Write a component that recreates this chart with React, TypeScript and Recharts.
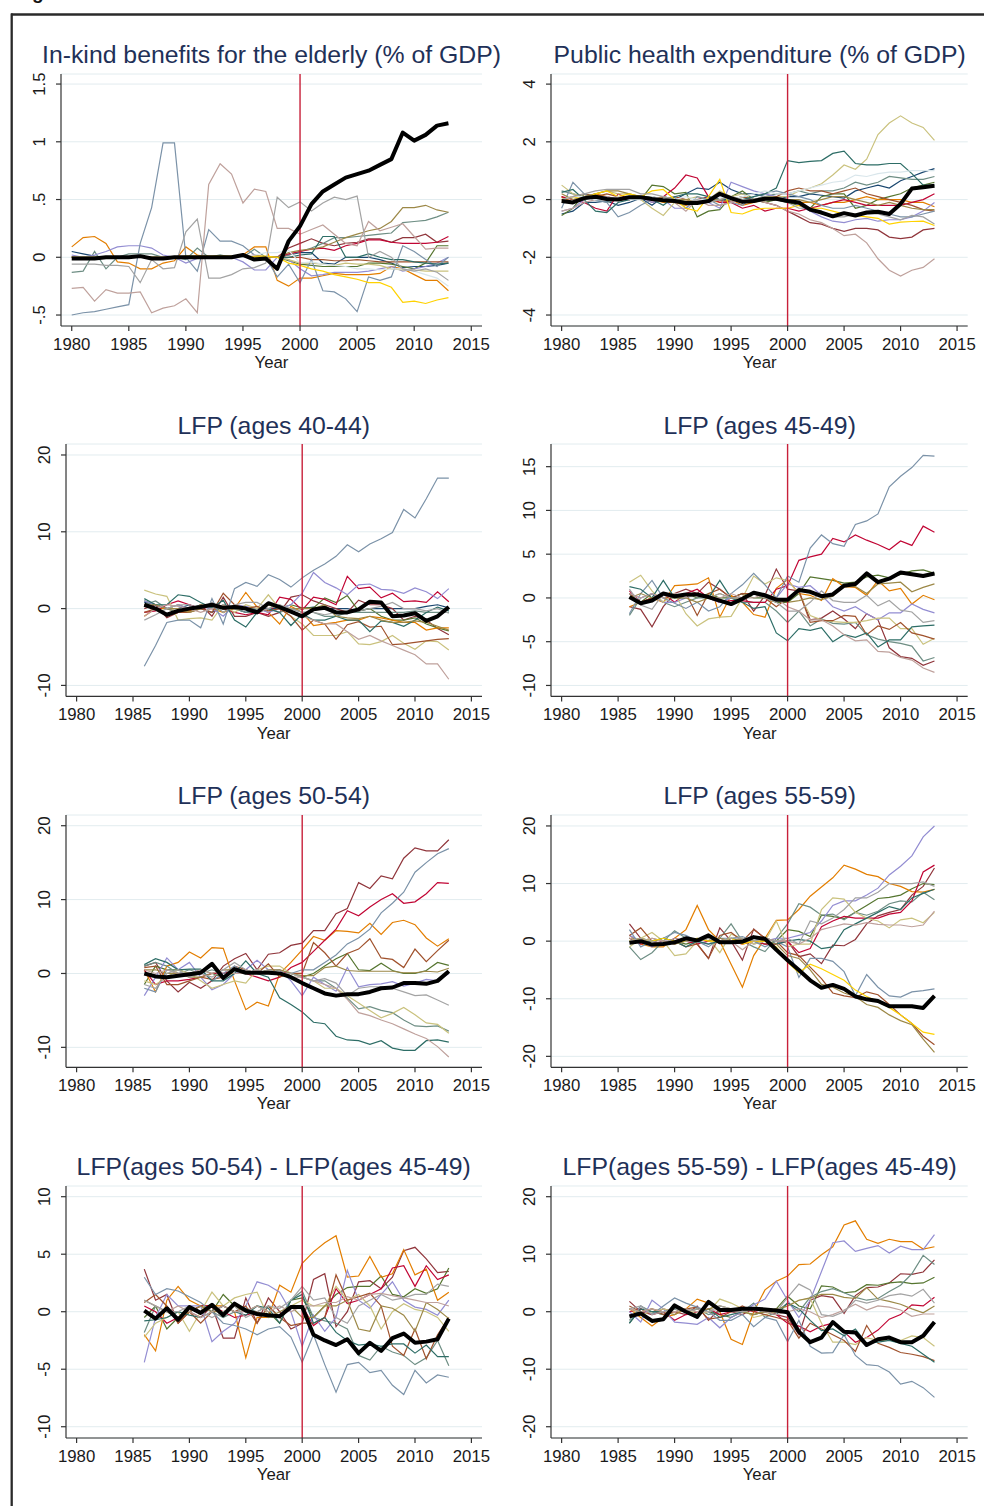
import React from 'react';
import { LineChart, Line, XAxis, YAxis, CartesianGrid, ReferenceLine } from 'recharts';

// ---------- axes ----------
const yearsLong = [1980, 1981, 1982, 1983, 1984, 1985, 1986, 1987, 1988, 1989, 1990, 1991, 1992, 1993, 1994, 1995, 1996, 1997, 1998, 1999, 2000, 2001, 2002, 2003, 2004, 2005, 2006, 2007, 2008, 2009, 2010, 2011, 2012, 2013];
const yearsShort = [1986, 1987, 1988, 1989, 1990, 1991, 1992, 1993, 1994, 1995, 1996, 1997, 1998, 1999, 2000, 2001, 2002, 2003, 2004, 2005, 2006, 2007, 2008, 2009, 2010, 2011, 2012, 2013];
const xTicks = [1980, 1985, 1990, 1995, 2000, 2005, 2010, 2015];
const treatmentYear = 2000;

const inkindTicks = [-0.5, 0, 0.5, 1, 1.5];
const healthTicks = [-4, -2, 0, 2, 4];
const lfp4044Ticks = [-10, 0, 10, 20];
const lfp4549Ticks = [-10, -5, 0, 5, 10, 15];
const lfp5054Ticks = [-10, 0, 10, 20];
const lfp5559Ticks = [-20, -10, 0, 10, 20];
const diff5054Ticks = [-10, -5, 0, 5, 10];
const diff5559Ticks = [-20, -10, 0, 10, 20];

// ---------- panel 1: in-kind benefits ----------
const inkindAvg = [-0.01, -0.01, -0.01, 0.0, 0.0, 0.0, 0.01, -0.01, -0.01, 0.0, 0.0, 0.0, 0.0, 0.0, 0.0, 0.02, -0.02, -0.01, -0.1, 0.14, 0.27, 0.46, 0.57, 0.63, 0.69, 0.72, 0.75, 0.8, 0.85, 1.08, 1.01, 1.06, 1.14, 1.16];
const inkindLines: Record<string, number[]> = {
  s1: [0.05, 0.03, 0.01, 0.0, 0.0, 0.0, 0.0, 0.0, 0.0, 0.0, 0.0, 0.0, 0.0, 0.0, 0.0, 0.0, 0.0, 0.0, 0.0, 0.02, 0.04, 0.04, -0.05, -0.06, 0.0, 0.0, 0.0, -0.02, -0.05, -0.09, -0.08, -0.08, -0.07, -0.05],
  s2: [0, 0, 0, 0, 0, 0, 0, 0, 0, 0, 0, 0, 0, 0, 0, 0, 0.01, 0.0, 0.0, 0.08, 0.12, 0.16, 0.12, 0.1, 0.12, 0.13, 0.16, 0.16, 0.13, 0.17, 0.17, 0.2, 0.13, 0.14],
  s3: [0, 0, 0, 0, 0, 0, 0, 0, 0, 0, 0, 0, 0, 0.01, 0, 0, 0, 0, 0, -0.03, -0.06, -0.07, -0.08, -0.08, -0.08, -0.08, -0.05, -0.05, -0.06, -0.08, -0.1, -0.05, 0.1, 0.1],
  s4: [0.09, 0.17, 0.18, 0.12, -0.04, -0.05, -0.1, -0.1, -0.05, -0.03, 0.09, 0.02, 0.0, 0.0, 0.0, 0.02, 0.09, 0.09, -0.2, -0.25, -0.18, -0.18, -0.16, -0.14, -0.15, -0.15, -0.15, -0.14, -0.08, -0.1, -0.15, -0.2, -0.2, -0.29],
  s5: [-0.13, -0.12, 0.05, -0.1, 0.0, 0.03, 0.03, 0.03, 0.0, 0.0, -0.02, 0.08, 0.0, 0.02, 0.0, 0.0, 0.07, 0.0, 0.0, 0.02, 0.05, 0.08, 0.12, 0.17, 0.17, 0.18, 0.19, 0.2, 0.21, 0.3, 0.31, 0.32, 0.35, 0.39],
  s6: [0, 0, 0, 0, 0, 0, 0, 0, 0, 0, 0, 0, 0, 0, 0, 0, 0.02, 0.0, 0.0, 0.03, 0.05, 0.07, 0.08, 0.06, 0.1, 0.12, 0.15, 0.15, 0.13, 0.12, 0.12, 0.12, 0.13, 0.18],
  s7: [0.02, 0.0, 0.02, 0.05, 0.09, 0.1, 0.1, 0.08, 0.02, 0.0, -0.05, -0.01, 0.0, 0.0, 0.0, -0.04, -0.11, -0.11, 0.0, -0.02, -0.1, -0.16, -0.15, -0.13, -0.13, -0.13, -0.12, -0.1, -0.08, -0.12, -0.1, -0.08, -0.05, 0.0],
  s8: [0, 0, 0, 0, 0, 0, 0, 0, 0, 0, 0, 0, 0, 0, 0, 0, 0, 0, 0, -0.02, -0.05, -0.05, -0.06, -0.07, -0.05, -0.06, -0.06, -0.07, -0.1, -0.11, -0.11, -0.12, -0.12, -0.12],
  s9: [0, 0, 0, 0, 0, 0, 0, 0, 0, 0, 0, 0, 0, 0, 0, 0, 0, 0, 0, 0, 0.0, -0.02, -0.02, -0.03, -0.03, -0.02, -0.03, -0.04, -0.04, -0.04, -0.04, -0.04, -0.04, -0.04],
  s10: [-0.5, -0.48, -0.47, -0.45, -0.43, -0.41, 0.12, 0.43, 0.99, 0.99, 0.0, -0.12, 0.24, 0.14, 0.14, 0.1, 0.02, 0.0, -0.17, -0.06, -0.22, -0.02, -0.29, -0.3, -0.36, -0.47, -0.17, -0.2, -0.17, 0.1, 0.05, -0.02, -0.08, 0.0],
  s11: [0, 0, 0, 0, 0, 0, 0, 0, 0, 0, 0, 0, 0, 0, 0, 0, 0, 0, 0, 0, 0.02, 0.03, 0.18, 0.18, 0.0, 0.0, 0.03, 0.0, -0.02, -0.02, -0.04, -0.05, -0.06, -0.05],
  s12: [0, 0, 0, 0, 0, 0, 0, 0, 0, 0, 0, 0, 0, 0, 0, 0, 0, 0, 0, 0.04, 0.06, 0.07, 0.09, 0.13, 0.17, 0.2, 0.23, 0.25, 0.31, 0.43, 0.43, 0.45, 0.41, 0.39],
  s13: [-0.27, -0.26, -0.38, -0.28, -0.31, -0.31, -0.3, -0.48, -0.44, -0.42, -0.36, -0.48, 0.63, 0.81, 0.72, 0.47, 0.59, 0.57, 0.25, 0.25, 0.2, 0.24, 0.28, 0.2, 0.12, 0.1, 0.31, 0.23, 0.26, 0.29, 0.18, 0.07, 0.08, 0.08],
  s14: [0, 0, 0, 0, 0, 0, 0, 0, 0, 0, 0.01, 0.01, 0.01, 0.01, 0.01, 0.01, 0.01, 0.01, 0.0, -0.05, -0.07, -0.1, -0.12, -0.15, -0.17, -0.19, -0.22, -0.22, -0.26, -0.39, -0.38, -0.4, -0.37, -0.35],
  s15: [0, 0, 0, 0, 0, 0, 0, 0, 0, 0, 0, 0, 0, 0, 0, 0, 0.02, 0.04, 0.04, 0.06, -0.05, -0.04, -0.06, -0.07, -0.08, -0.1, -0.1, -0.11, -0.1, -0.1, -0.12, -0.15, -0.18, -0.25],
  s16: [-0.06, -0.06, -0.06, -0.07, -0.07, -0.08, -0.22, -0.02, -0.1, -0.09, 0.22, 0.33, -0.18, -0.18, -0.15, -0.1, -0.09, -0.05, 0.52, 0.43, 0.48, 0.4, 0.47, 0.52, 0.5, 0.53, 0.0, 0.05, 0.0, -0.1, -0.12, -0.1, -0.13, -0.2],
};

// ---------- panel 2: public health expenditure ----------
const healthAvg = [-0.05, -0.1, 0.05, 0.1, 0.02, 0.0, 0.08, 0.08, 0.02, -0.02, -0.05, -0.12, -0.12, -0.05, 0.2, 0.05, -0.08, -0.05, 0.03, 0.03, -0.05, -0.1, -0.35, -0.45, -0.58, -0.47, -0.55, -0.45, -0.42, -0.5, -0.15, 0.38, 0.43, 0.48];
const healthLines: Record<string, number[]> = {
  s1: [-0.5, -0.4, -0.1, -0.1, -0.05, -0.2, -0.1, 0.05, -0.2, 0.1, 0.0, 0.2, 0.4, 0.35, 0.6, 0.35, 0.2, 0.2, 0.1, 0.0, 0.1, 0.1, 0.2, 0.15, 0.1, 0.05, 0.3, 0.4, 0.5, 0.4, 0.65, 0.8, 0.95, 1.07],
  s2: [0.1, -0.1, 0.1, 0.0, 0.0, 0.1, 0.0, 0.1, -0.1, 0.0, 0.0, -0.2, 0.0, 0.1, 0.0, -0.1, 0.0, 0.0, -0.1, -0.2, -0.4, -0.6, -0.8, -0.85, -1.0, -1.1, -1.0, -1.0, -1.05, -1.3, -1.35, -1.3, -1.05, -1.0],
  s3: [-0.55, -0.3, 0.2, 0.1, 0.0, 0.0, 0.1, 0.0, 0.5, 0.45, 0.2, 0.25, -0.6, -0.4, -0.35, 0.1, 0.3, 0.0, -0.1, 0.0, -0.1, -0.2, -0.3, 0.1, 0.2, 0.2, -0.3, -0.2, 0.0, 0.1, 0.2, 0.4, 0.5, 0.6],
  s4: [0.1, -0.1, 0.1, 0.2, 0.1, 0.0, 0.0, 0.1, 0.0, -0.1, -0.1, -0.2, -0.1, 0.0, -0.1, 0.0, -0.2, -0.1, 0.0, 0.1, 0.0, -0.1, -0.1, -0.2, -0.1, -0.1, 0.0, 0.1, 0.0, 0.0, 0.0, -0.1, -0.1, -0.25],
  s5: [0.3, 0.2, 0.1, 0.0, -0.1, 0.0, 0.1, 0.1, 0.1, 0.0, 0.0, -0.1, 0.0, -0.1, 0.0, 0.0, 0.1, 0.0, 0.1, 0.2, 0.2, 0.3, 0.2, 0.3, 0.3, 0.4, 0.6, 0.5, 0.6, 0.8, 0.75, 0.7, 0.7, 0.8],
  s6: [0.1, 0.0, -0.1, -0.3, -0.4, 0.2, 0.0, 0.1, 0.0, 0.1, 0.4, 0.85, 0.75, 0.1, -0.1, -0.1, -0.3, -0.2, -0.4, -0.3, -0.3, -0.4, -0.3, -0.2, -0.1, 0.0, -0.1, -0.2, -0.2, -0.2, -0.2, -0.1, 0.0, 0.2],
  s7: [-0.4, -0.3, 0.0, 0.1, 0.1, 0.0, 0.0, 0.1, -0.1, 0.0, -0.3, -0.3, 0.0, -0.1, -0.3, 0.6, 0.45, 0.3, 0.2, 0.1, 0.0, -0.2, -0.4, -0.6, -0.75, -0.8, -0.7, -0.65, -0.75, -0.7, -0.7, -0.6, -0.4, -0.1],
  s8: [0.5, 0.2, 0.1, 0.2, 0.3, 0.2, 0.2, 0.0, -0.3, -0.55, -0.1, 0.0, 0.1, 0.0, 0.3, 0.1, 0.2, 0.0, 0.1, 0.1, 0.1, 0.3, 0.4, 0.55, 0.85, 1.2, 1.05, 1.4, 2.25, 2.65, 2.9, 2.65, 2.5, 2.05],
  s9: [0.0, 0.1, 0.2, 0.1, 0.2, 0.1, 0.0, 0.1, 0.0, 0.0, 0.1, 0.0, -0.1, 0.0, 0.0, 0.0, 0.1, 0.0, 0.0, 0.1, 0.3, 0.4, 0.3, 0.3, 0.2, 0.3, 0.4, 0.2, 0.1, 0.0, -0.1, -0.2, -0.35, -0.4],
  s10: [-0.3, 0.6, 0.2, 0.0, -0.1, -0.6, -0.45, -0.2, 0.0, 0.0, 0.1, -0.3, 0.1, 0.0, -0.2, -0.1, -0.2, 0.1, 0.2, 0.3, 0.2, 0.1, 0.0, -0.2, -0.3, -0.3, -0.2, -0.3, -0.4, -0.5, -0.6, -0.6, -0.5, -0.4],
  s11: [0.25, 0.35, 0.0, -0.4, -0.45, -0.1, 0.0, 0.1, 0.0, -0.2, 0.1, 0.2, 0.2, 0.1, 0.0, 0.0, 0.0, 0.1, 0.2, 0.4, 1.35, 1.28, 1.32, 1.35, 1.6, 1.68, 1.25, 1.2, 1.2, 1.25, 1.25, 0.9, 0.5, 0.5],
  s12: [0.2, 0.0, 0.1, 0.2, 0.3, 0.3, 0.2, 0.1, 0.0, 0.1, 0.0, 0.0, -0.1, 0.0, 0.0, 0.1, 0.0, 0.0, 0.0, 0.0, 0.0, 0.0, -0.1, 0.0, 0.1, 0.1, 0.0, -0.1, -0.2, -0.1, -0.2, -0.3, -0.35, -0.35],
  s13: [-0.4, -0.3, -0.1, 0.0, 0.1, 0.0, 0.1, 0.0, 0.1, 0.0, -0.1, -0.4, 0.0, -0.2, -0.2, -0.1, 0.0, 0.0, -0.1, -0.2, -0.4, -0.5, -0.7, -0.8, -1.0, -1.25, -1.2, -1.5, -2.05, -2.45, -2.65, -2.45, -2.35, -2.05],
  s14: [0.0, 0.1, 0.0, 0.2, 0.3, 0.1, 0.2, 0.1, 0.3, 0.35, 0.0, -0.3, -0.4, 0.1, 0.7, -0.45, -0.5, -0.35, -0.3, -0.3, -0.3, -0.2, -0.3, -0.3, -0.4, -0.5, -0.55, -0.6, -0.65, -0.85, -0.78, -0.76, -0.75, -0.9],
  s15: [0.0, 0.1, 0.1, 0.0, 0.0, 0.1, 0.0, 0.0, 0.1, 0.0, 0.0, 0.1, 0.0, 0.0, 0.1, 0.0, 0.1, 0.2, 0.3, 0.2, 0.2, 0.3, 0.4, 0.5, 0.6, 0.65, 0.85, 0.8, 0.9, 0.95, 0.95, 1.0, 1.0, 1.0],
  s16: [0.0, 0.1, 0.2, 0.3, 0.35, 0.35, 0.35, 0.2, 0.2, 0.1, 0.0, -0.1, 0.0, -0.1, 0.0, 0.1, 0.0, 0.0, 0.1, 0.0, -0.1, -0.3, -0.3, -0.5, -0.6, -0.6, -0.5, -0.5, -0.5, -0.6, -0.7, -0.55, -0.6, -0.85],
};

// ---------- panel 3: LFP 40-44 ----------
const lfp4044Avg = [0.5, 0.0, -0.8, -0.3, 0.0, 0.2, 0.5, 0.1, 0.2, 0.0, -0.5, 0.7, 0.2, -0.4, -1.0, -0.1, 0.1, -0.5, -0.5, -0.1, 0.9, 0.8, -1.0, -0.9, -0.6, -1.6, -1.0, 0.2];
const lfp4044Lines: Record<string, number[]> = {
  s1: [0.8, 0.5, 0.0, 0.0, 0.5, 0.0, -0.5, 0.5, 0.0, -0.5, 0.0, 0.0, 0.0, 0.0, 0.0, 0.2, 0.0, 0.0, 0.0, -0.3, 0.0, 0.0, 0.0, 0.0, 0.0, 0.3, 0.5, 0.1],
  s2: [0.0, 0.5, -1.2, -0.5, -0.3, 0.5, -1.0, 1.5, -1.0, -1.0, -0.5, -1.0, -0.5, 1.5, 1.8, 1.0, 0.5, 0.0, -0.5, 1.1, 0.5, 0.5, 0.0, -1.5, -1.0, -1.5, -2.6, -3.4],
  s3: [1.0, 0.5, 0.0, 0.5, 0.0, 0.0, 0.5, -0.5, 0.5, 0.0, 0.0, 0.5, 0.0, 0.5, 0.1, 0.1, 1.4, 0.8, 1.7, -0.3, 0.0, -1.0, -1.5, -1.5, -1.2, -2.0, -2.5, -2.9],
  s4: [-1.0, 0.0, 0.0, -0.5, -0.3, 0.5, 0.0, -0.5, 0.0, 2.1, 0.2, -0.5, -2.0, 0.3, -0.5, -2.2, -2.0, -1.8, -1.5, -1.5, -1.0, -1.2, -1.5, -1.8, -1.8, -2.8, -2.5, -2.5],
  s5: [0.5, 1.0, 0.0, -0.5, 0.0, 0.5, 0.0, 0.0, 0.0, -0.5, -0.5, 0.0, -0.5, 0.0, -0.5, -0.5, -1.0, -1.0, -0.5, -0.5, -0.5, -0.5, -0.5, -0.5, -0.3, -0.5, -0.5, -0.5],
  s6: [-0.5, -0.3, 0.5, 1.0, 0.5, 0.0, 0.3, 0.0, -0.5, -0.8, -0.5, -0.8, 1.5, 1.2, -0.2, 1.5, 1.2, 0.5, 4.2, 2.6, 2.8, 1.4, 2.0, 0.9, 1.0, 0.8, 2.2, 0.9],
  s7: [1.0, 0.5, 0.0, 0.5, 0.0, 0.3, 0.0, -1.0, 0.5, 0.3, 0.0, -0.5, 0.0, 0.5, 2.0, 4.7, 3.4, 2.7, 1.8, 3.1, 3.2, 2.5, 2.4, 2.0, 2.7, 2.2, 1.3, 2.6],
  s8: [2.4, 1.9, 1.6, -1.5, -1.3, -1.2, -1.5, 0.5, -0.5, 0.5, 0.0, 1.8, 0.0, -1.0, -2.0, -3.5, -3.5, -3.5, -3.0, -4.6, -4.7, -4.3, -3.5, -4.5, -5.3, -4.2, -4.3, -5.4],
  s9: [-0.5, 0.0, -1.0, -0.5, -0.5, 0.0, -0.5, 2.0, 0.5, 0.0, 0.3, -0.3, 0.0, -1.0, -2.8, -1.5, -2.0, -4.0, -2.1, -1.7, -2.4, -2.3, -4.7, -4.6, -4.4, -4.2, -4.0, -3.9],
  s10: [-7.5, -4.8, -1.8, -1.5, -1.5, -2.5, 1.3, -2.0, 2.6, 3.4, 2.9, 4.4, 3.8, 2.8, 4.0, 5.0, 5.8, 6.8, 8.3, 7.4, 8.4, 9.1, 9.9, 12.9, 11.8, 14.3, 17.0, 17.0],
  s11: [1.3, 0.5, 0.5, 1.8, 1.6, 0.8, 0.1, 1.1, -1.5, -2.4, -0.5, 0.0, -0.5, -2.2, -0.7, -1.5, -1.5, -1.0, -1.5, -1.5, -3.0, -1.6, -1.8, -2.3, -1.5, -0.5, 0.2, -0.3],
  s12: [0.5, 0.5, 0.0, 0.0, -0.5, 0.0, 0.5, 0.0, 0.0, 0.0, -0.5, 0.5, 0.0, 0.0, 0.0, 0.0, 0.5, -1.0, -1.2, -1.3, -1.0, -1.5, -1.8, -1.8, -1.6, -1.8, -2.3, -2.8],
  s13: [-1.0, 0.0, 0.5, 0.3, 0.0, -0.5, 0.0, 0.5, 0.0, 0.0, -0.5, 0.0, 0.5, -0.5, -1.0, -1.5, -2.0, -2.0, -3.0, -4.0, -3.5, -4.2, -4.8, -5.4, -6.0, -7.2, -7.2, -9.2],
  s16: [-1.5, -0.8, 0.0, 0.5, 0.5, 0.0, 0.8, -0.5, 0.5, 0.8, 0.8, 0.0, 0.5, 0.0, -0.5, -0.5, -0.8, -0.5, -0.6, -0.3, 0.0, 0.3, 0.8, 0.0, 0.0, -0.3, 0.0, -0.6],
};

// ---------- panel 4: LFP 45-49 ----------
const lfp4549Avg = [0.1, -0.6, -0.3, 0.5, 0.2, 0.4, 0.4, 0.1, -0.3, -0.7, -0.1, 0.6, 0.3, -0.2, -0.2, 0.9, 0.7, 0.2, 0.4, 1.4, 1.6, 2.8, 1.8, 2.2, 2.9, 2.7, 2.5, 2.8];
const lfp4549Lines: Record<string, number[]> = {
  s2: [-1.0, -1.3, -3.3, -1.0, 0.5, 1.0, 0.5, 1.8, 1.0, 0.0, 0.5, -1.5, 0.3, 3.3, 1.0, 0.8, -2.5, -2.3, -1.5, -2.4, -3.5, -1.8, -2.5, -5.7, -6.7, -6.9, -7.7, -7.2],
  s3: [0.5, -0.5, 0.5, 0.0, 0.0, 0.5, 0.0, 0.5, 0.0, 0.0, 0.5, 0.0, 0.0, -0.5, -0.5, 0.5, 2.4, 2.2, 2.0, 1.7, 1.8, 2.4, 2.6, 2.3, 2.7, 3.1, 3.2, 2.8],
  s4: [-1.0, -0.5, 0.0, -0.5, 1.4, 1.5, 1.6, 2.3, -2.2, 0.3, -0.5, -1.9, -2.2, 1.1, 2.1, 0.5, 0.3, -0.3, 2.2, 1.3, 1.2, 0.3, 2.0, 0.8, 1.1, -0.7, 0.3, -0.2],
  s5: [-2.0, 0.0, 0.5, -0.5, -1.0, -0.5, 0.0, 0.0, -0.5, 0.0, -0.5, -0.5, -0.5, -1.5, -2.8, -1.5, -3.2, -2.4, -2.9, -3.0, -2.8, -4.2, -4.7, -5.0, -5.2, -5.5, -7.2, -6.8],
  s6: [0.8, -0.5, 0.0, 0.5, -0.5, 0.5, 1.0, 0.0, -0.5, -0.3, -0.3, -0.5, -0.5, 1.0, 1.4, 4.3, 4.7, 5.0, 6.8, 6.4, 7.2, 6.6, 6.1, 5.5, 6.5, 6.0, 8.2, 7.5],
  s7: [0.5, 0.0, 0.5, -0.5, -0.5, 0.0, 0.5, 0.0, -0.5, 0.0, 0.0, 0.5, 0.0, 0.0, 1.6, 1.2, 1.4, 0.3, -1.0, -1.5, -1.0, -1.8, -2.5, -1.7, -1.7, -0.7, -1.3, -1.7],
  s8: [1.8, 2.6, 0.8, -0.5, 0.5, -1.8, -3.2, -2.4, -2.2, -2.1, 0.0, 2.5, 1.6, 2.3, 2.0, 0.5, -2.0, -2.5, -2.7, -2.8, -2.8, -2.6, -2.3, -2.3, -3.5, -3.5, -5.3, -4.6],
  s9: [0.5, -0.5, 0.0, 0.5, 0.0, 0.5, -2.0, 0.5, 1.0, 0.0, 0.5, 0.5, 0.0, -1.0, 0.0, 0.8, -2.8, -2.6, -2.6, -2.0, -2.1, -4.2, -3.2, -3.6, -2.8, -4.0, -4.3, -4.7],
  s10: [-1.8, 0.5, 2.0, 0.0, -0.6, -1.2, -0.5, -1.5, -1.0, 0.5, 1.5, 2.8, 1.5, 0.0, 2.5, 1.8, 5.7, 7.2, 6.2, 5.9, 8.4, 8.8, 9.6, 12.7, 13.9, 14.9, 16.3, 16.2],
  s11: [1.3, 1.0, 0.0, 2.0, 0.0, 0.0, 0.5, 0.0, 2.0, 0.0, -0.5, -1.2, -1.0, -4.0, -4.9, -3.5, -3.7, -3.4, -5.0, -4.2, -4.5, -4.0, -5.6, -4.8, -4.8, -3.3, -3.2, -3.1],
  s12: [0.0, 0.5, 0.0, 0.5, 0.0, 0.0, -0.5, 0.0, 0.5, 0.0, 0.0, 0.5, 0.0, 0.0, -0.5, -0.3, 0.0, -0.2, 0.2, 1.5, 1.3, 0.5, 1.6, 1.7, 1.8, 0.7, 1.2, 1.6],
  s13: [0.5, 0.0, 0.5, 0.0, 0.5, 0.0, 0.5, 0.0, 0.0, 0.5, 0.0, 0.0, 0.5, 0.0, -1.0, -1.5, -2.5, -2.5, -3.2, -4.2, -4.9, -4.8, -6.1, -6.2, -6.8, -7.1, -8.0, -8.5],
  s16: [1.0, -0.8, -1.3, 0.5, 0.0, 0.5, 0.5, 0.0, 0.5, 0.0, 0.0, 0.5, 0.0, -0.5, -1.5, -1.5, -0.5, 0.8, -0.3, -0.5, -0.5, 0.3, -0.9, -0.3, -1.4, -1.6, -2.8, -2.6],
};

// ---------- panel 5: LFP 50-54 ----------
const lfp5054Avg = [0.0, -0.4, -0.5, -0.3, -0.1, 0.1, 1.3, -0.6, 0.6, 0.1, 0.1, 0.1, 0.0, -0.5, -1.3, -2.0, -2.7, -3.0, -2.8, -2.8, -2.5, -2.0, -1.9, -1.3, -1.3, -1.4, -1.0, 0.3];
const lfp5054Lines: Record<string, number[]> = {
  s2: [1.0, 1.5, -1.0, -2.5, -1.2, -2.0, -1.0, 1.0, 2.0, 2.7, 0.5, 2.6, 2.8, 3.8, 4.1, 5.8, 5.8, 8.1, 8.8, 12.3, 11.5, 13.2, 12.8, 15.6, 17.0, 16.6, 16.6, 18.1],
  s3: [-1.5, 1.0, 0.5, 0.5, 0.0, 0.5, 0.0, -0.5, 0.5, 0.0, 0.0, 0.5, 0.0, 0.0, -0.5, 0.0, 1.0, 2.0, 2.7, 0.5, 0.4, 1.4, 0.4, 0.0, 0.0, 0.4, 1.5, 1.1],
  s4: [0.5, -2.5, 1.0, 1.5, 2.9, 2.1, 3.5, 3.4, -1.0, -4.9, -3.9, -4.4, 0.0, 1.5, 3.2, 5.0, 4.5, 5.8, 5.7, 5.5, 6.8, 5.3, 6.9, 7.2, 6.6, 4.8, 3.7, 4.7],
  s5: [1.0, 1.5, 1.0, 0.0, 0.5, 0.0, 0.5, 0.0, 0.5, 0.0, 0.5, 0.0, 0.0, 0.0, -0.5, -1.0, -1.0, -2.0, -3.3, -4.8, -4.5, -5.0, -5.3, -6.3, -7.1, -7.2, -7.1, -7.8],
  s6: [0.5, -1.5, -1.0, -1.0, -0.8, -0.5, 0.0, 0.0, 0.5, 0.0, -0.5, -1.0, -0.5, 0.8, 1.5, 3.0, 4.5, 6.0, 8.5, 7.8, 9.0, 10.0, 10.8, 9.5, 9.7, 10.8, 12.3, 12.2],
  s7: [-3.0, -0.5, 2.1, 0.5, 1.5, -0.5, -2.2, -1.5, 0.0, 0.5, 1.8, 0.5, 0.5, -1.0, -3.0, -0.5, -1.5, -2.4, 0.8, -1.8, -1.5, -1.4, -1.1, -1.7, -1.3, -0.8, -1.0, 0.0],
  s8: [-1.0, -1.5, -0.5, 0.5, 0.0, -1.0, -2.0, -1.5, -1.0, -1.3, 0.5, 1.0, 1.0, 0.0, -0.5, -1.0, -2.0, -2.0, -3.0, -4.0, -5.0, -6.0, -5.4, -4.6, -5.6, -6.7, -6.9, -8.1],
  s9: [0.8, 1.0, -1.5, -1.5, -1.0, -0.5, -0.8, -0.5, 1.0, 0.5, 0.0, 1.3, -0.5, 0.0, 0.0, 4.2, 2.8, 1.0, 2.7, 3.3, 4.7, 2.1, 1.9, 0.8, 3.3, 1.6, 3.1, 4.5],
  s10: [-2.0, -2.5, 0.5, 0.0, -0.5, 0.5, -1.0, 0.0, 1.0, 0.0, 0.5, 0.0, 0.5, 0.0, 0.5, 0.5, 1.5, 2.5, 4.0, 4.8, 6.0, 8.2, 9.5, 11.0, 13.7, 15.0, 16.2, 16.9],
  s11: [1.2, 2.0, 1.5, 0.5, 0.6, 0.6, -1.0, -1.0, 0.0, 1.7, 0.0, -0.5, -3.3, -4.2, -5.2, -6.6, -6.8, -8.5, -9.0, -9.1, -9.6, -9.1, -10.1, -10.4, -10.4, -9.1, -9.0, -9.3],
  s12: [0.5, 0.5, 0.0, 0.0, -0.5, -0.5, 0.0, 0.5, 0.5, 0.0, 0.0, 0.5, 0.5, 0.0, -0.3, -0.3, 0.8, 1.0, 0.4, 0.3, 0.3, 0.3, 0.3, 0.1, 0.1, 0.3, 0.2, 0.7],
  s13: [0.5, 0.0, 0.5, 0.0, 0.0, 0.5, 0.0, 0.5, 0.0, 0.0, 0.5, 0.0, 0.0, -0.5, -0.5, -1.0, -1.5, -2.0, -3.5, -5.3, -5.7, -6.3, -6.8, -7.5, -8.2, -8.8, -9.9, -11.3],
  s16: [-1.5, -2.0, 0.0, 0.5, -0.5, 0.0, -0.5, 0.5, 1.5, 0.5, 0.0, 0.5, 0.0, 0.0, -0.5, -1.0, -0.7, -1.3, -3.0, -2.0, -1.8, -1.8, -2.0, -2.5, -3.0, -2.9, -3.6, -4.3],
};

// ---------- panel 6: LFP 55-59 ----------
const lfp5559Avg = [-0.3, 0.0, -0.6, -0.5, -0.2, 0.5, 0.1, 1.0, -0.2, -0.2, -0.1, 0.7, 0.4, -1.5, -3.3, -5.0, -6.8, -8.1, -7.6, -8.3, -9.6, -10.1, -10.4, -11.3, -11.3, -11.3, -11.6, -9.5];
const lfp5559Lines: Record<string, number[]> = {
  s2: [3.0, 0.5, -0.5, 0.0, -0.5, 0.5, -0.5, -3.0, 2.3, 0.0, -3.3, 2.1, 0.5, 0.0, 0.0, -2.7, -2.2, -3.9, -0.7, -0.8, 0.3, 3.0, 4.4, 5.0, 5.5, 8.0, 9.5, 12.7],
  s3: [0.0, 0.5, 0.0, 0.5, 0.0, -0.5, 0.0, 0.5, 0.0, 0.5, 0.0, 0.0, -0.5, 0.0, 2.0, 1.7, 0.8, 4.5, 4.3, 3.9, 5.0, 6.2, 7.4, 7.6, 8.0, 9.1, 10.0, 9.8],
  s4: [1.0, -0.5, -1.0, -1.0, 0.5, 2.0, 6.2, 2.0, 0.0, -4.0, -8.0, -2.5, 0.5, 3.6, 3.7, 5.5, 7.8, 9.4, 11.0, 13.2, 12.5, 11.6, 11.2, 10.0, 9.5, 8.6, 8.5, 9.0],
  s5: [-1.0, -3.2, -2.0, 0.0, 1.8, 0.5, 0.0, 0.5, 0.5, 3.0, 0.0, -1.0, -1.8, 0.5, 3.0, 6.5, 5.9, 4.5, 4.7, 3.7, 5.0, 4.5, 5.2, 6.5, 7.0, 6.8, 8.5, 7.2],
  s6: [0.5, -0.5, 0.0, -0.5, 0.5, 0.0, -0.5, 0.0, 0.5, 0.0, -0.5, 0.0, -0.5, -0.5, 0.0, -2.0, -1.3, 2.5, 3.5, 4.3, 4.0, 4.0, 4.0, 4.7, 5.0, 7.0, 12.0, 13.2],
  s7: [1.0, 0.0, -1.0, 0.0, 0.0, 0.5, 0.0, -0.5, 0.5, 0.0, 0.5, -0.5, 0.0, 0.5, 0.5, 1.0, 1.5, 3.5, 6.2, 7.0, 7.0, 8.0, 9.2, 11.5, 13.0, 14.8, 18.1, 20.0],
  s8: [-1.0, 0.5, 1.5, 0.0, -2.5, -2.2, 0.0, 0.5, -2.0, 1.2, 0.5, -0.5, 0.0, 3.5, -1.0, -0.5, -0.5, 5.5, 7.5, 7.3, 5.0, 4.0, 3.5, 2.3, 3.7, 4.0, 3.2, 5.0],
  s9: [1.0, 2.3, 0.0, -0.5, 0.0, -1.0, -0.5, -3.0, 1.0, 1.5, 0.0, 2.0, 0.5, 0.0, -2.0, -2.5, -4.5, -6.5, -9.0, -9.5, -9.8, -8.8, -9.3, -11.0, -12.8, -14.3, -16.5, -18.0],
  s10: [2.0, -1.0, 0.0, 0.5, 1.5, 1.0, 0.0, -1.0, 0.5, 0.5, 0.8, 0.0, -1.0, 0.0, -1.0, -6.3, -3.0, -3.0, -3.5, -5.3, -9.5, -5.8, -8.0, -9.5, -9.7, -8.8, -8.6, -8.3],
  s11: [0.5, 0.0, 0.0, 0.5, 0.0, -1.0, 0.0, -0.5, 0.0, 0.5, 0.0, 0.5, 0.0, -0.5, 0.0, 0.3, 0.0, -1.3, -1.0, 2.0, 3.0, 4.0, 5.0, 6.0, 5.5, 7.5, 8.3, 9.0],
  s12: [0.5, 0.0, 0.5, 0.0, -0.5, 0.0, 0.5, 0.0, 0.5, 0.0, 0.5, 0.0, 0.0, -0.5, -2.5, -3.0, -5.0, -7.5, -8.0, -9.0, -9.6, -11.0, -11.5, -12.8, -13.8, -14.5, -17.0, -19.3],
  s13: [0.5, 0.0, 0.5, 0.0, 0.0, 0.5, 0.0, 0.5, 0.0, 0.0, -1.5, 0.0, 0.5, 0.0, 0.0, -0.5, 0.5, 2.0, 2.5, 3.0, 2.8, 3.2, 2.9, 2.8, 2.8, 2.5, 2.8, 5.2],
  s14: [0.0, 0.5, 0.0, 0.5, 0.0, 0.0, 0.5, 0.0, 0.0, 0.5, -0.5, 0.0, 0.0, -1.0, -3.7, -5.5, -4.0, -4.8, -5.8, -6.8, -8.5, -9.6, -10.5, -11.5, -12.8, -14.3, -15.8, -16.2],
  s16: [0.0, 0.5, 0.0, -0.5, 0.5, 0.0, 0.0, 0.5, 0.0, 0.5, 0.5, 0.0, 0.5, 0.0, 0.5, -0.5, 3.5, 3.0, 4.0, 5.5, 7.5, 7.5, 8.5, 10.0, 10.0, 10.0, 10.3, 9.5],
};

// ---------- panel 7: LFP(50-54) - LFP(45-49) ----------
const diff5054Avg = [0.1, -0.6, 0.3, -0.7, 0.4, -0.1, 0.6, -0.3, 0.7, 0.1, -0.2, -0.3, -0.4, 0.4, 0.4, -2.0, -2.5, -2.9, -2.4, -3.6, -2.7, -3.4, -2.3, -1.9, -2.7, -2.6, -2.4, -0.6];
const diff5054Lines: Record<string, number[]> = {
  s2: [3.7, 1.0, 1.5, -1.0, 0.0, -0.5, 0.5, -2.3, -2.3, 1.2, -1.0, 1.2, 0.0, -1.5, -1.0, 2.8, 3.3, -1.3, 0.0, 2.6, 2.7, 2.0, 3.0, 5.3, 5.6, 4.6, 3.4, 3.5],
  s3: [-0.5, 0.5, -1.5, -0.5, 0.0, 0.5, 0.0, 1.5, 0.5, 0.0, 0.5, 0.0, -1.0, 1.0, 1.2, -0.5, 0.5, 1.5, 2.1, 2.2, 2.2, 3.1, 1.5, 1.3, 2.0, 1.6, 2.0, 3.8],
  s4: [-2.0, -3.4, 1.0, 2.2, 1.0, 0.5, 0.5, 0.5, 0.0, -4.0, -0.5, -0.5, 2.3, 1.7, 4.2, 5.2, 6.0, 6.6, 3.0, 3.1, 4.8, 3.0, 3.3, 5.4, 3.2, 3.7, 1.0, 1.7],
  s5: [-1.8, 0.5, 0.0, -0.5, 0.0, 0.5, 0.0, -0.5, 0.0, 0.3, 0.0, 0.5, -0.5, 1.0, 1.8, -0.5, -0.8, -1.0, -1.5, -3.8, -4.2, -3.0, -3.5, -3.8, -4.6, -4.0, -2.5, -4.7],
  s6: [0.5, 0.0, -1.0, -0.5, 0.0, 0.5, 0.5, 0.0, -0.5, -0.3, 0.0, -0.5, -0.3, 0.5, 0.5, -1.2, -0.5, 2.0, 0.7, 1.0, 1.5, 2.0, 3.8, 4.0, 2.2, 4.0, 2.8, 3.2],
  s7: [-4.4, -0.5, 1.5, 0.5, 0.5, 0.5, -2.6, -1.7, -1.0, 0.5, 2.6, 2.3, 1.7, 0.0, -3.0, -0.3, -1.7, -0.5, 3.6, 1.0, 0.3, 1.5, 2.6, 1.0, 0.4, 0.2, -0.3, 1.0],
  s8: [-2.2, -1.0, -0.5, 0.0, -1.7, 0.0, 1.7, 0.5, 1.2, 1.5, 1.7, -0.5, -0.5, 0.5, 1.0, 0.5, 0.5, 2.2, 1.0, 1.5, 0.5, -1.5, 0.0, 0.7, 0.2, 0.0, -0.5, -1.7],
  s9: [0.8, 1.5, 0.5, -1.0, 0.0, -1.0, 0.0, 0.5, 0.0, 0.5, -1.0, 0.5, -0.5, -1.2, -1.0, -1.0, -0.5, 3.2, 1.0, 1.3, 1.6, 0.5, -3.0, -3.8, -1.5, -4.1, -2.0, -0.5],
  s10: [3.0, 1.5, 2.0, 1.8, 1.3, 0.8, 0.0, -1.0, -1.2, -1.5, -2.0, -1.5, -1.3, -2.2, -4.4, -2.0, -4.6, -7.0, -4.6, -4.4, -5.3, -5.1, -6.4, -7.2, -5.1, -6.2, -5.5, -5.7],
  s11: [-0.8, -0.7, -0.5, 0.0, -0.3, -0.5, 0.0, 0.5, 0.0, -0.3, 0.5, 0.3, -1.0, 1.0, 1.5, -1.0, -0.5, -1.8, -2.5, -2.9, -2.8, -3.0, -2.8, -2.8, -3.6, -2.9, -3.9, -3.9],
  s12: [1.0, 0.5, 0.0, -0.5, 0.0, 0.5, 0.0, 0.0, 0.5, 0.0, 0.0, -0.5, 0.0, 0.5, -0.5, -0.5, 0.5, 0.5, 1.0, -1.5, -1.7, 0.5, 0.3, -0.3, -1.7, 0.8, 0.2, -0.6],
  s13: [1.0, 0.5, 0.0, 0.5, 0.0, -0.5, 0.0, 0.5, 0.0, 0.0, 0.5, 0.0, 0.5, 0.0, 0.5, 0.5, 0.8, 0.8, 1.3, 1.0, 1.5, 1.6, 1.4, 1.2, 1.0, 0.8, 0.8, 0.5],
  s16: [1.0, 0.5, 0.0, 0.0, 0.5, 0.0, -0.5, 0.0, 0.5, -0.5, 0.0, 0.5, 0.3, 1.0, 2.2, 1.0, 1.2, -0.5, -1.0, 0.5, 1.0, 1.5, 1.0, 1.2, 1.5, 1.5, 2.4, 2.2],
};

// ---------- panel 8: LFP(55-59) - LFP(45-49) ----------
const diff5559Avg = [-0.8, -0.3, -1.6, -1.3, 1.1, 0.0, -0.9, 1.7, 0.3, 0.3, 0.5, 0.5, 0.4, 0.2, -0.1, -3.5, -5.3, -4.5, -1.8, -3.5, -3.6, -5.8, -4.8, -4.5, -5.3, -5.3, -4.2, -1.8];
const diff5559Lines: Record<string, number[]> = {
  s2: [1.8, 0.0, -0.5, 0.5, 0.0, -0.5, 1.0, -1.5, 0.5, 0.0, -0.5, 0.5, 0.0, -0.5, -1.0, -4.0, 2.0, 2.8, 2.5, -0.3, 2.8, 4.2, 4.3, 5.0, 6.6, 6.5, 6.9, 9.0],
  s3: [-2.0, 0.5, 0.0, -0.5, 0.5, 0.0, 0.5, 0.0, -0.5, -1.0, 0.0, -0.5, 0.0, 0.5, 2.7, 1.0, 0.5, 4.5, 4.3, 3.3, 3.5, 4.7, 4.6, 5.0, 5.2, 4.9, 5.0, 6.0],
  s4: [0.5, -1.0, -2.5, -1.0, -0.5, 0.5, 2.2, 1.5, 0.0, -4.8, -5.7, 0.0, 3.8, 5.3, 6.2, 8.2, 8.3, 9.9, 11.3, 15.1, 15.8, 12.6, 11.9, 12.6, 12.2, 12.2, 10.9, 11.3],
  s5: [-1.5, 1.0, 0.0, -0.5, 0.5, 0.0, 0.5, -0.5, 0.0, 0.5, 0.0, 1.5, -1.0, 0.0, 1.5, 0.0, 2.5, 3.5, 4.0, 3.3, 2.5, 2.0, 2.3, 3.5, 4.6, 6.6, 9.8, 8.2],
  s6: [0.0, 0.5, -0.5, 0.0, -1.5, -0.5, 0.0, 0.5, -0.5, 0.0, 0.5, 0.0, 0.5, -0.5, -2.0, -2.5, -3.5, -2.5, -2.0, -3.5, -5.3, -4.5, -3.2, -1.3, -0.5, 1.2, 1.0, 2.5],
  s7: [0.0, -1.8, 2.0, 0.5, -1.8, -2.0, -2.2, -1.0, -2.8, -1.0, 0.0, 1.2, 2.2, 5.3, 2.0, -1.0, 2.0, 7.0, 12.0, 12.3, 10.5, 11.0, 11.5, 10.2, 11.4, 10.8, 10.8, 13.4],
  s8: [0.5, -0.5, 0.0, 0.5, 0.0, 0.5, -0.5, 0.0, 2.2, 1.5, 0.5, -1.0, -0.5, 0.0, 1.0, 2.0, 2.3, -2.0, -5.3, -5.3, -5.7, -4.5, -5.0, -5.0, -5.0, -4.2, -4.5, -6.0],
  s9: [1.0, 0.0, 0.5, -0.5, 0.0, 0.5, 0.8, -1.3, -1.0, 0.0, 1.0, 0.0, -0.5, -1.0, -1.5, -4.6, -2.0, -3.0, -4.0, -5.0, -6.9, -2.4, -5.5, -6.2, -7.1, -7.4, -7.8, -8.5],
  s10: [-2.0, 1.0, -0.5, 1.0, 2.4, 1.5, 0.8, 0.0, -1.5, -1.5, -0.5, -2.6, -1.0, -1.5, -5.2, -1.5, -6.0, -7.2, -7.1, -4.0, -7.6, -9.2, -9.4, -10.5, -12.6, -12.1, -13.2, -14.9],
  s11: [-2.0, 0.5, 0.0, 0.0, 0.5, 0.0, -0.5, 0.5, -1.0, -0.5, 0.0, 0.5, 0.0, -0.5, 1.5, 0.5, -1.5, -3.3, -3.0, -4.2, -3.0, -5.5, -5.3, -5.0, -5.5, -6.0, -7.4, -8.8],
  s12: [0.5, 0.0, 0.5, 0.0, -0.5, 0.5, 0.0, 0.5, 1.0, 0.5, 0.0, -0.5, 0.0, 0.5, 1.0, 2.0, 2.4, 3.0, 3.0, 2.5, 2.3, 4.2, 2.2, 1.8, 1.3, 0.5, -0.2, 1.0],
  s13: [0.5, 0.0, 0.5, 0.0, 0.0, 0.5, 0.0, 0.0, 0.5, 0.0, 0.0, 0.5, 0.0, -0.5, 0.0, 0.5, 0.0, -1.0, -0.5, 0.3, 1.3, 0.3, 1.0, 0.8, 0.3, -0.8, -0.4, -0.4],
  s16: [0.5, 1.0, -0.5, 0.0, 0.5, 0.0, 0.5, 0.0, 1.0, 0.5, 0.0, 0.5, 0.5, 0.0, 2.5, 4.8, 3.8, -0.5, -0.8, 0.0, 2.0, 1.5, 2.0, 2.8, 3.1, 2.7, 3.9, 1.5],
};

// ---------- styling ----------
const PALETTE: Record<string, string> = {
  s1: '#1a476f', s2: '#90353b', s3: '#55752f', s4: '#e37e00', s5: '#6e8e84', s6: '#c10534',
  s7: '#938dd2', s8: '#cac27e', s9: '#a0522d', s10: '#7b92a8', s11: '#2d6d66', s12: '#9c8847',
  s13: '#bfa19c', s14: '#ffd200', s15: '#d9e6eb', s16: '#a3a3a3',
};
const FONT = '"Liberation Sans", Arial, Helvetica, sans-serif';
const TITLE_COLOR = '#1f3158';
const AXIS_COLOR = '#333333';
const GRID_COLOR = '#e2ecef';
const X_DOMAIN: [number, number] = [1979.06, 2015.94];
const TITLE_SIZE = 24.8;

const fmtTick = (v: number) => {
  if (v === 0) return '0';
  const s = String(Math.abs(v)).replace(/^0\./, '.');
  return v < 0 ? '-' + s : s;
};

type PanelDef = {
  title: string; years: number[]; avg: number[]; lines: Record<string, number[]>;
  yTicks: number[]; yDomain: [number, number]; L: number; R: number; T: number; B: number;
};

const LEFT_A = 61, LEFT_B = 65.7, RIGHT_L = 551.3;
const panels: PanelDef[] = [
  { title: 'In-kind benefits for the elderly (% of GDP)', years: yearsLong, avg: inkindAvg, lines: inkindLines, yTicks: inkindTicks, yDomain: [-0.595, 1.587], L: LEFT_A, R: 482, T: 74, B: 326 },
  { title: 'Public health expenditure (% of GDP)', years: yearsLong, avg: healthAvg, lines: healthLines, yTicks: healthTicks, yDomain: [-4.38, 4.35], L: RIGHT_L, R: 968, T: 74, B: 326 },
  { title: 'LFP (ages 40-44)', years: yearsShort, avg: lfp4044Avg, lines: lfp4044Lines, yTicks: lfp4044Ticks, yDomain: [-11.43, 21.43], L: LEFT_B, R: 481.7, T: 444.3, B: 696.7 },
  { title: 'LFP (ages 45-49)', years: yearsShort, avg: lfp4549Avg, lines: lfp4549Lines, yTicks: lfp4549Ticks, yDomain: [-11.25, 17.59], L: RIGHT_L, R: 968, T: 444.3, B: 696.7 },
  { title: 'LFP (ages 50-54)', years: yearsShort, avg: lfp5054Avg, lines: lfp5054Lines, yTicks: lfp5054Ticks, yDomain: [-12.7, 21.45], L: LEFT_B, R: 481.7, T: 815, B: 1067.3 },
  { title: 'LFP (ages 55-59)', years: yearsShort, avg: lfp5559Avg, lines: lfp5559Lines, yTicks: lfp5559Ticks, yDomain: [-21.9, 21.9], L: RIGHT_L, R: 968, T: 815, B: 1067.3 },
  { title: 'LFP(ages 50-54) - LFP(ages 45-49)', years: yearsShort, avg: diff5054Avg, lines: diff5054Lines, yTicks: diff5054Ticks, yDomain: [-10.98, 10.93], L: LEFT_B, R: 481.7, T: 1186, B: 1438 },
  { title: 'LFP(ages 55-59) - LFP(ages 45-49)', years: yearsShort, avg: diff5559Avg, lines: diff5559Lines, yTicks: diff5559Ticks, yDomain: [-21.96, 21.86], L: RIGHT_L, R: 968, T: 1186, B: 1438 },
];

const XTick = (props: any) => {
  const { x, y, payload } = props;
  return (
    <text x={x} y={y + 19} textAnchor="middle" fontSize={16.8} fontFamily={FONT} fill="#1a1a1a">
      {payload.value}
    </text>
  );
};

const YTick = (props: any) => {
  const { x, y, payload } = props;
  const bx = x - 11.2;
  return (
    <text x={bx} y={y} transform={`rotate(-90 ${bx} ${y})`} textAnchor="middle" fontSize={16.8} fontFamily={FONT} fill="#1a1a1a">
      {fmtTick(payload.value)}
    </text>
  );
};

const YW = 50, MT = 5, MR = 26, XH = 50;

function Panel({ p }: { p: PanelDef }) {
  const W = p.R - p.L + YW + MR;
  const H = p.B - p.T + MT + XH;
  const keys = Object.keys(p.lines);
  const rows = p.years.map((yr, i) => {
    const r: Record<string, number> = { year: yr, avg: p.avg[i] };
    keys.forEach((k) => { r[k] = p.lines[k][i]; });
    return r;
  });
  return (
    <div style={{ position: 'absolute', left: p.L - YW, top: p.T - MT, width: W, height: H }}>
      <LineChart width={W} height={H} data={rows} margin={{ top: MT, right: MR, left: 0, bottom: 0 }}>
        <CartesianGrid vertical={false} stroke={GRID_COLOR} strokeWidth={1} />
        <XAxis dataKey="year" type="number" domain={X_DOMAIN} ticks={xTicks} interval={0} allowDataOverflow
          height={XH} tickSize={5} tickMargin={0} tick={<XTick />}
          axisLine={{ stroke: AXIS_COLOR, strokeWidth: 1.2 }} tickLine={{ stroke: AXIS_COLOR, strokeWidth: 1.2 }} />
        <YAxis type="number" domain={p.yDomain} ticks={p.yTicks} interval={0} allowDataOverflow
          width={YW} tickSize={5} tickMargin={0} tick={<YTick />}
          axisLine={{ stroke: AXIS_COLOR, strokeWidth: 1.2 }} tickLine={{ stroke: AXIS_COLOR, strokeWidth: 1.2 }} />
        {keys.map((k) => (
          <Line key={k} type="linear" dataKey={k} stroke={PALETTE[k]} strokeWidth={1.2} dot={false} activeDot={false} isAnimationActive={false} />
        ))}
        <ReferenceLine x={treatmentYear} stroke="#c8203a" strokeWidth={1.4} />
        <Line type="linear" dataKey="avg" stroke="#000000" strokeWidth={4} strokeLinejoin="round" dot={false} activeDot={false} isAnimationActive={false} />
      </LineChart>
    </div>
  );
}

export default function App() {
  return (
    <div style={{ position: 'absolute', left: 0, top: 0, width: 984, height: 1506, background: '#ffffff', overflow: 'hidden' }}>
      {panels.map((p, i) => <Panel key={i} p={p} />)}
      <svg width={984} height={1506} style={{ position: 'absolute', left: 0, top: 0, pointerEvents: 'none' }}>
        <text x={15} y={-1} fontSize={19} fontWeight="bold" fontFamily={FONT} fill="#111">Figure</text>
        <line x1={11} y1={14.5} x2={984} y2={14.5} stroke="#2a2a2a" strokeWidth={2.3} />
        <line x1={11.7} y1={13.4} x2={11.7} y2={1506} stroke="#2a2a2a" strokeWidth={2.3} />
        {panels.map((p, i) => (
          <g key={i}>
            <text x={(p.L + p.R) / 2} y={p.T - 10.7} textAnchor="middle" fontSize={TITLE_SIZE} fontFamily={FONT} fill={TITLE_COLOR}>{p.title}</text>
            <text x={(p.L + p.R) / 2} y={p.B + 42} textAnchor="middle" fontSize={16.8} fontFamily={FONT} fill="#1a1a1a">Year</text>
          </g>
        ))}
      </svg>
    </div>
  );
}
